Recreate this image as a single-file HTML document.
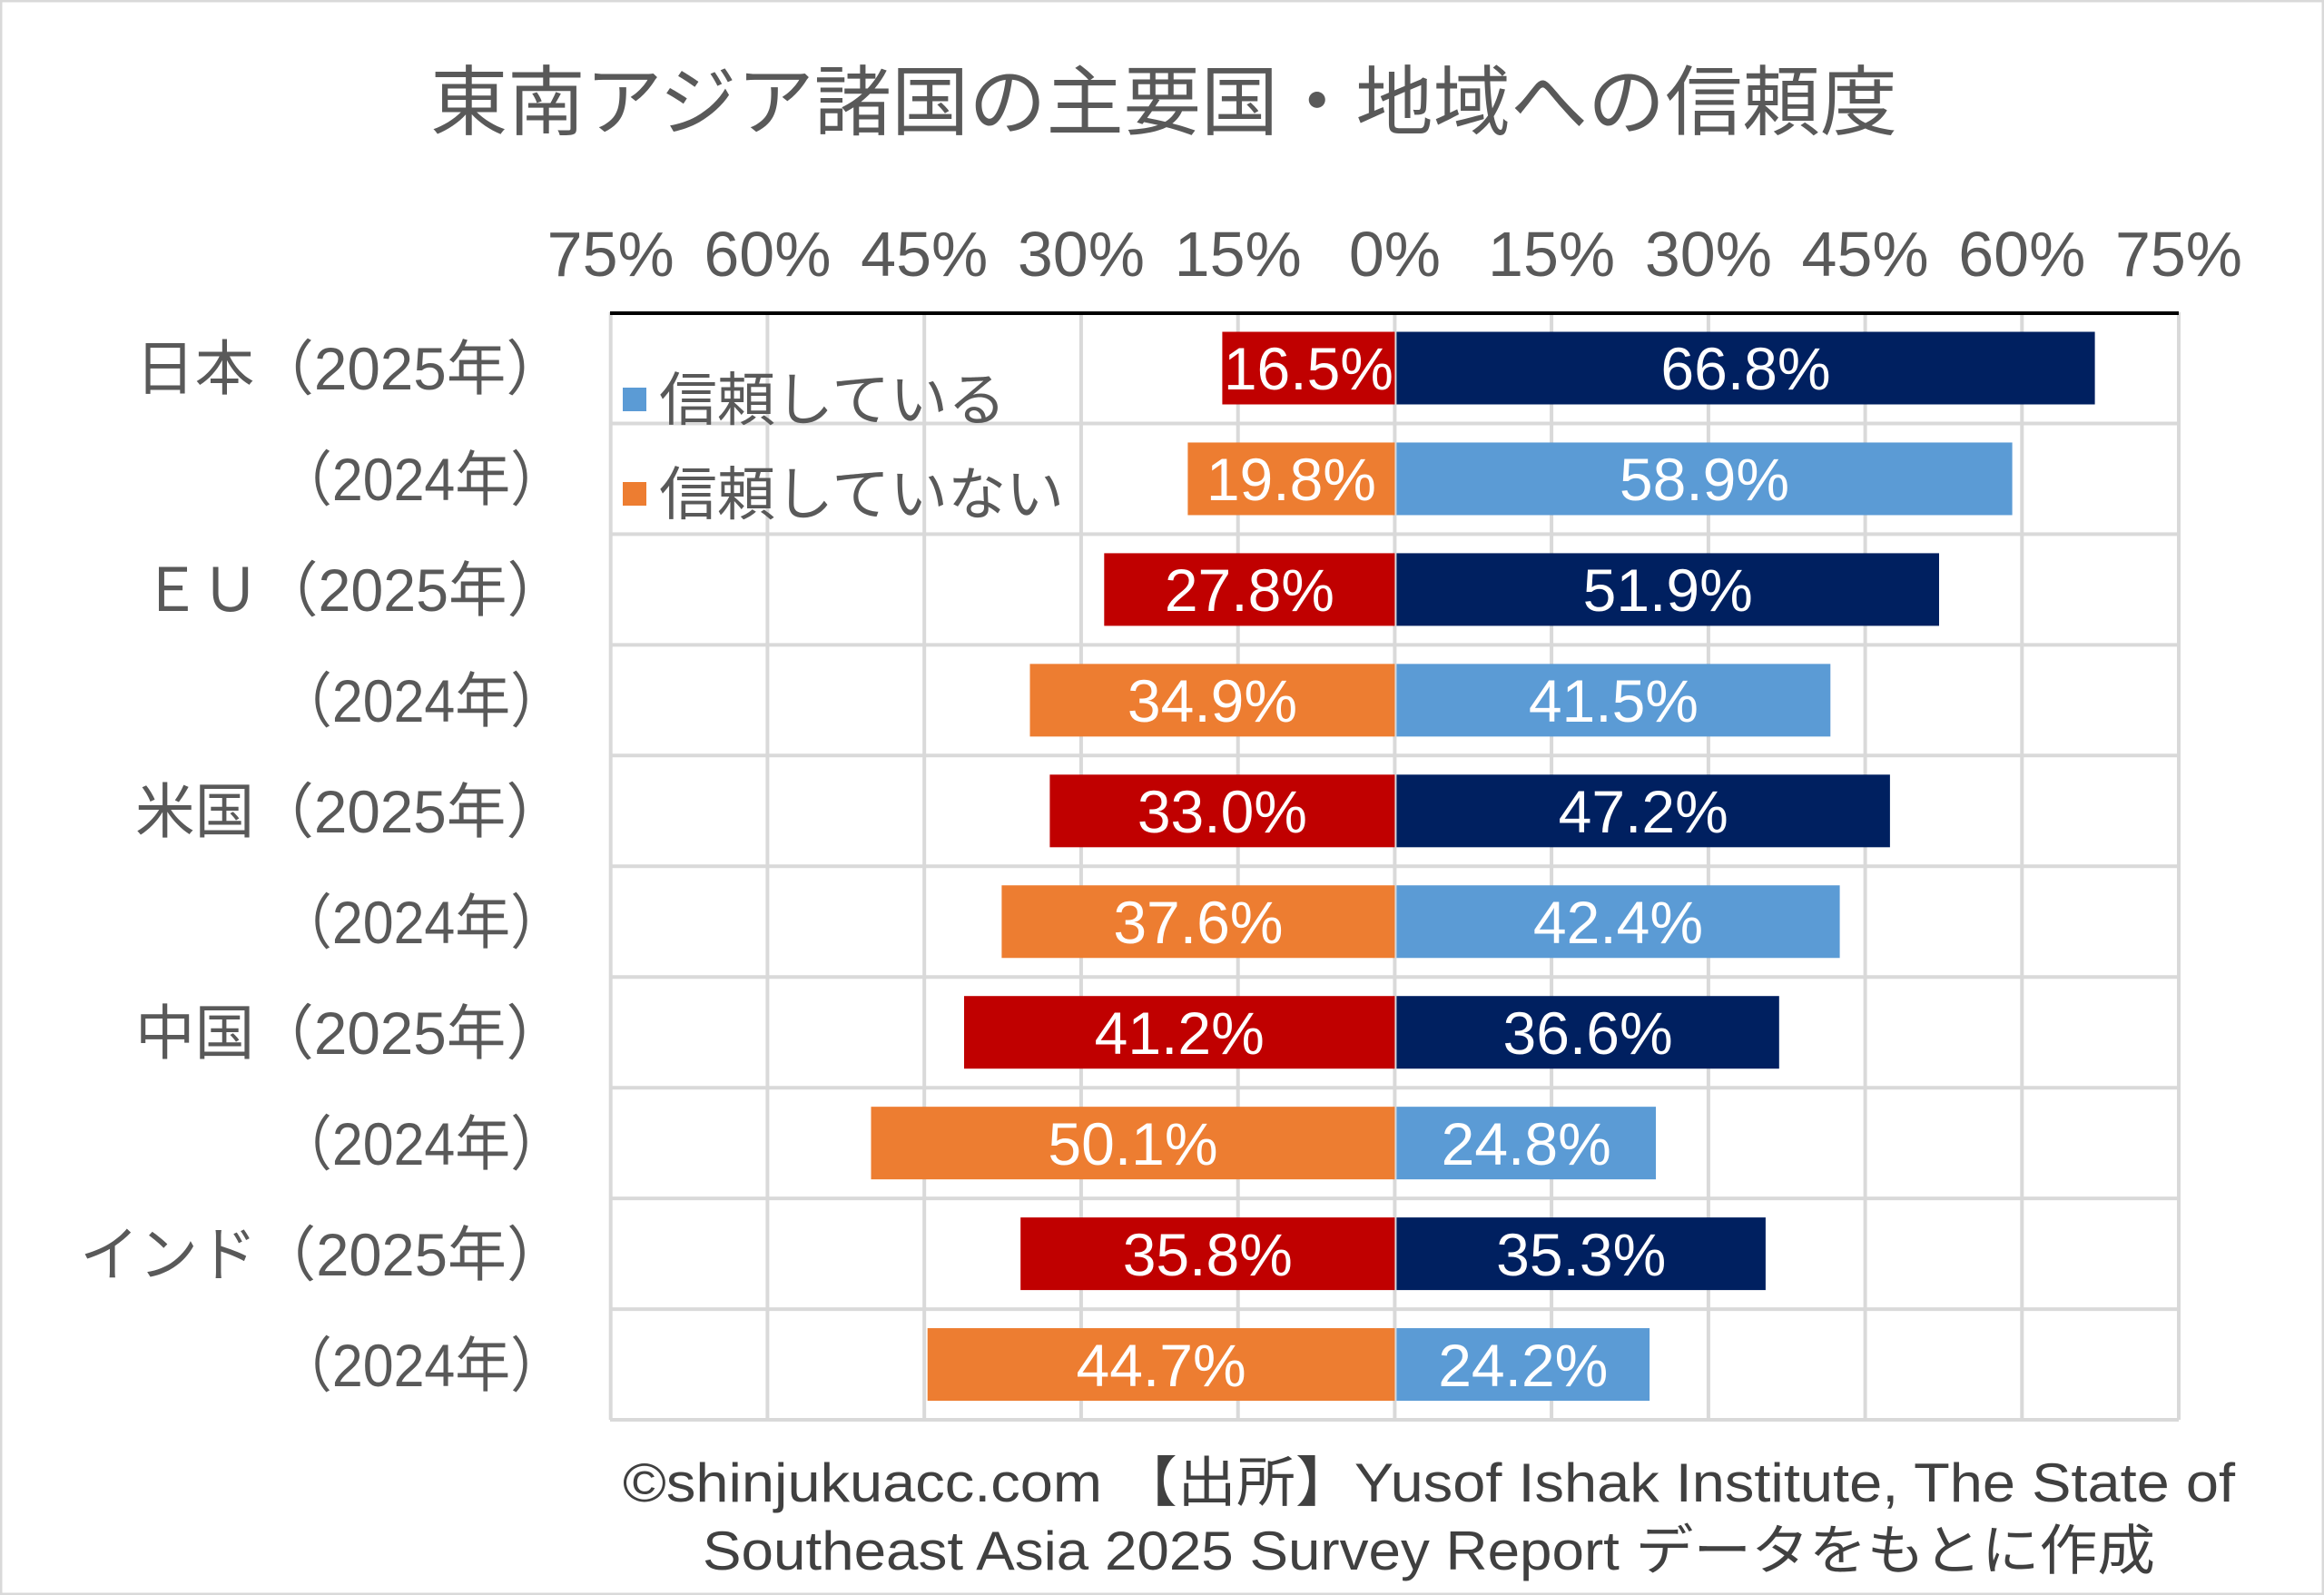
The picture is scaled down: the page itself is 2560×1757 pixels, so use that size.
<!DOCTYPE html>
<html><head><meta charset="utf-8"><style>
html,body{margin:0;padding:0;background:#fff}
svg{display:block}
text{font-family:"Liberation Sans","Noto Sans CJK JP",sans-serif}
</style></head><body>
<svg width="2560" height="1757" viewBox="0 0 2560 1757" xmlns="http://www.w3.org/2000/svg">
<rect x="1" y="1" width="2558" height="1755" fill="#fff" stroke="#d9d9d9" stroke-width="3"/>
<text x="474" y="142" font-size="84" fill="#595959" textLength="1616" lengthAdjust="spacingAndGlyphs">東南アジア諸国の主要国・地域への信頼度</text>
<g stroke="#d9d9d9" stroke-width="4">
<line x1="672.7" y1="344" x2="672.7" y2="1564"/>
<line x1="845.4" y1="344" x2="845.4" y2="1564"/>
<line x1="1018.2" y1="344" x2="1018.2" y2="1564"/>
<line x1="1190.9" y1="344" x2="1190.9" y2="1564"/>
<line x1="1363.7" y1="344" x2="1363.7" y2="1564"/>
<line x1="1536.4" y1="344" x2="1536.4" y2="1564"/>
<line x1="1709.1" y1="344" x2="1709.1" y2="1564"/>
<line x1="1881.9" y1="344" x2="1881.9" y2="1564"/>
<line x1="2054.6" y1="344" x2="2054.6" y2="1564"/>
<line x1="2227.3" y1="344" x2="2227.3" y2="1564"/>
<line x1="2400" y1="344" x2="2400" y2="1564"/>
<line x1="672" y1="466.5" x2="2400" y2="466.5"/>
<line x1="672" y1="588.4" x2="2400" y2="588.4"/>
<line x1="672" y1="710.4" x2="2400" y2="710.4"/>
<line x1="672" y1="832.3" x2="2400" y2="832.3"/>
<line x1="672" y1="954.3" x2="2400" y2="954.3"/>
<line x1="672" y1="1076.2" x2="2400" y2="1076.2"/>
<line x1="672" y1="1198.2" x2="2400" y2="1198.2"/>
<line x1="672" y1="1320.1" x2="2400" y2="1320.1"/>
<line x1="672" y1="1442.1" x2="2400" y2="1442.1"/>
<line x1="672" y1="1564" x2="2400" y2="1564"/>
</g>
<line x1="672" y1="345" x2="2400" y2="345" stroke="#000" stroke-width="4"/>
<g font-size="70" fill="#595959" text-anchor="middle">
<text x="672.7" y="304">75%</text><text x="845.4" y="304">60%</text><text x="1018.2" y="304">45%</text><text x="1190.9" y="304">30%</text><text x="1363.7" y="304">15%</text><text x="1536.4" y="304">0%</text><text x="1709.1" y="304">15%</text><text x="1881.9" y="304">30%</text><text x="2054.6" y="304">45%</text><text x="2227.3" y="304">60%</text><text x="2400" y="304">75%</text>
</g>
<g>
<rect x="1346.4" y="365.5" width="190" height="80" fill="#c00000"/><rect x="1538.4" y="365.5" width="769.2" height="80" fill="#002060"/>
<rect x="1308.4" y="487.45" width="228" height="80" fill="#ed7d31"/><rect x="1538.4" y="487.45" width="678.2" height="80" fill="#5b9bd5"/>
<rect x="1216.3" y="609.4" width="320.1" height="80" fill="#c00000"/><rect x="1538.4" y="609.4" width="597.6" height="80" fill="#002060"/>
<rect x="1134.5" y="731.35" width="401.9" height="80" fill="#ed7d31"/><rect x="1538.4" y="731.35" width="477.9" height="80" fill="#5b9bd5"/>
<rect x="1156.4" y="853.3" width="380" height="80" fill="#c00000"/><rect x="1538.4" y="853.3" width="543.5" height="80" fill="#002060"/>
<rect x="1103.4" y="975.25" width="433" height="80" fill="#ed7d31"/><rect x="1538.4" y="975.25" width="488.2" height="80" fill="#5b9bd5"/>
<rect x="1062" y="1097.2" width="474.4" height="80" fill="#c00000"/><rect x="1538.4" y="1097.2" width="421.4" height="80" fill="#002060"/>
<rect x="959.5" y="1219.15" width="576.9" height="80" fill="#ed7d31"/><rect x="1538.4" y="1219.15" width="285.6" height="80" fill="#5b9bd5"/>
<rect x="1124.2" y="1341.1" width="412.2" height="80" fill="#c00000"/><rect x="1538.4" y="1341.1" width="406.5" height="80" fill="#002060"/>
<rect x="1021.7" y="1463.05" width="514.7" height="80" fill="#ed7d31"/><rect x="1538.4" y="1463.05" width="278.7" height="80" fill="#5b9bd5"/>
</g>
<g font-size="66" fill="#fff" text-anchor="middle">
<text x="1441.4" y="429">16.5%</text><text x="1923" y="429">66.8%</text>
<text x="1422.4" y="551">19.8%</text><text x="1877.5" y="551">58.9%</text>
<text x="1376.4" y="673">27.8%</text><text x="1837.2" y="673">51.9%</text>
<text x="1335.5" y="795">34.9%</text><text x="1777.4" y="795">41.5%</text>
<text x="1346.4" y="917">33.0%</text><text x="1810.2" y="917">47.2%</text>
<text x="1319.9" y="1039">37.6%</text><text x="1782.5" y="1039">42.4%</text>
<text x="1299.2" y="1161">41.2%</text><text x="1749.1" y="1161">36.6%</text>
<text x="1248" y="1283">50.1%</text><text x="1681.2" y="1283">24.8%</text>
<text x="1330.3" y="1405">35.8%</text><text x="1741.7" y="1405">35.3%</text>
<text x="1279.1" y="1527">44.7%</text><text x="1677.8" y="1527">24.2%</text>
</g>
<g font-size="66" fill="#595959" text-anchor="end">
<text x="623" y="429" textLength="474" lengthAdjust="spacingAndGlyphs">日本（2025年）</text>
<text x="623" y="551" textLength="318" lengthAdjust="spacingAndGlyphs">（2024年）</text>
<text x="623" y="673" textLength="466" lengthAdjust="spacingAndGlyphs">ＥＵ（2025年）</text>
<text x="623" y="795" textLength="318" lengthAdjust="spacingAndGlyphs">（2024年）</text>
<text x="623" y="917" textLength="474" lengthAdjust="spacingAndGlyphs">米国（2025年）</text>
<text x="623" y="1039" textLength="318" lengthAdjust="spacingAndGlyphs">（2024年）</text>
<text x="623" y="1161" textLength="474" lengthAdjust="spacingAndGlyphs">中国（2025年）</text>
<text x="623" y="1283" textLength="318" lengthAdjust="spacingAndGlyphs">（2024年）</text>
<text x="623" y="1405" textLength="535" lengthAdjust="spacingAndGlyphs">インド（2025年）</text>
<text x="623" y="1527" textLength="318" lengthAdjust="spacingAndGlyphs">（2024年）</text>
</g>
<rect x="686" y="427" width="26" height="26" fill="#5b9bd5"/>
<text x="726" y="463" font-size="64" fill="#595959">信頼している</text>
<rect x="686" y="531" width="26" height="26" fill="#ed7d31"/>
<text x="726" y="567" font-size="64" fill="#595959">信頼していない</text>
<g font-size="60" fill="#404040">
<text x="686" y="1654" textLength="1776" lengthAdjust="spacingAndGlyphs">©shinjukuacc.com 【出所】Yusof Ishak Institute, The State of</text>
<text x="774" y="1729" textLength="1600" lengthAdjust="spacingAndGlyphs">Southeast Asia 2025 Survey Report データをもとに作成</text>
</g>
</svg>
</body></html>
